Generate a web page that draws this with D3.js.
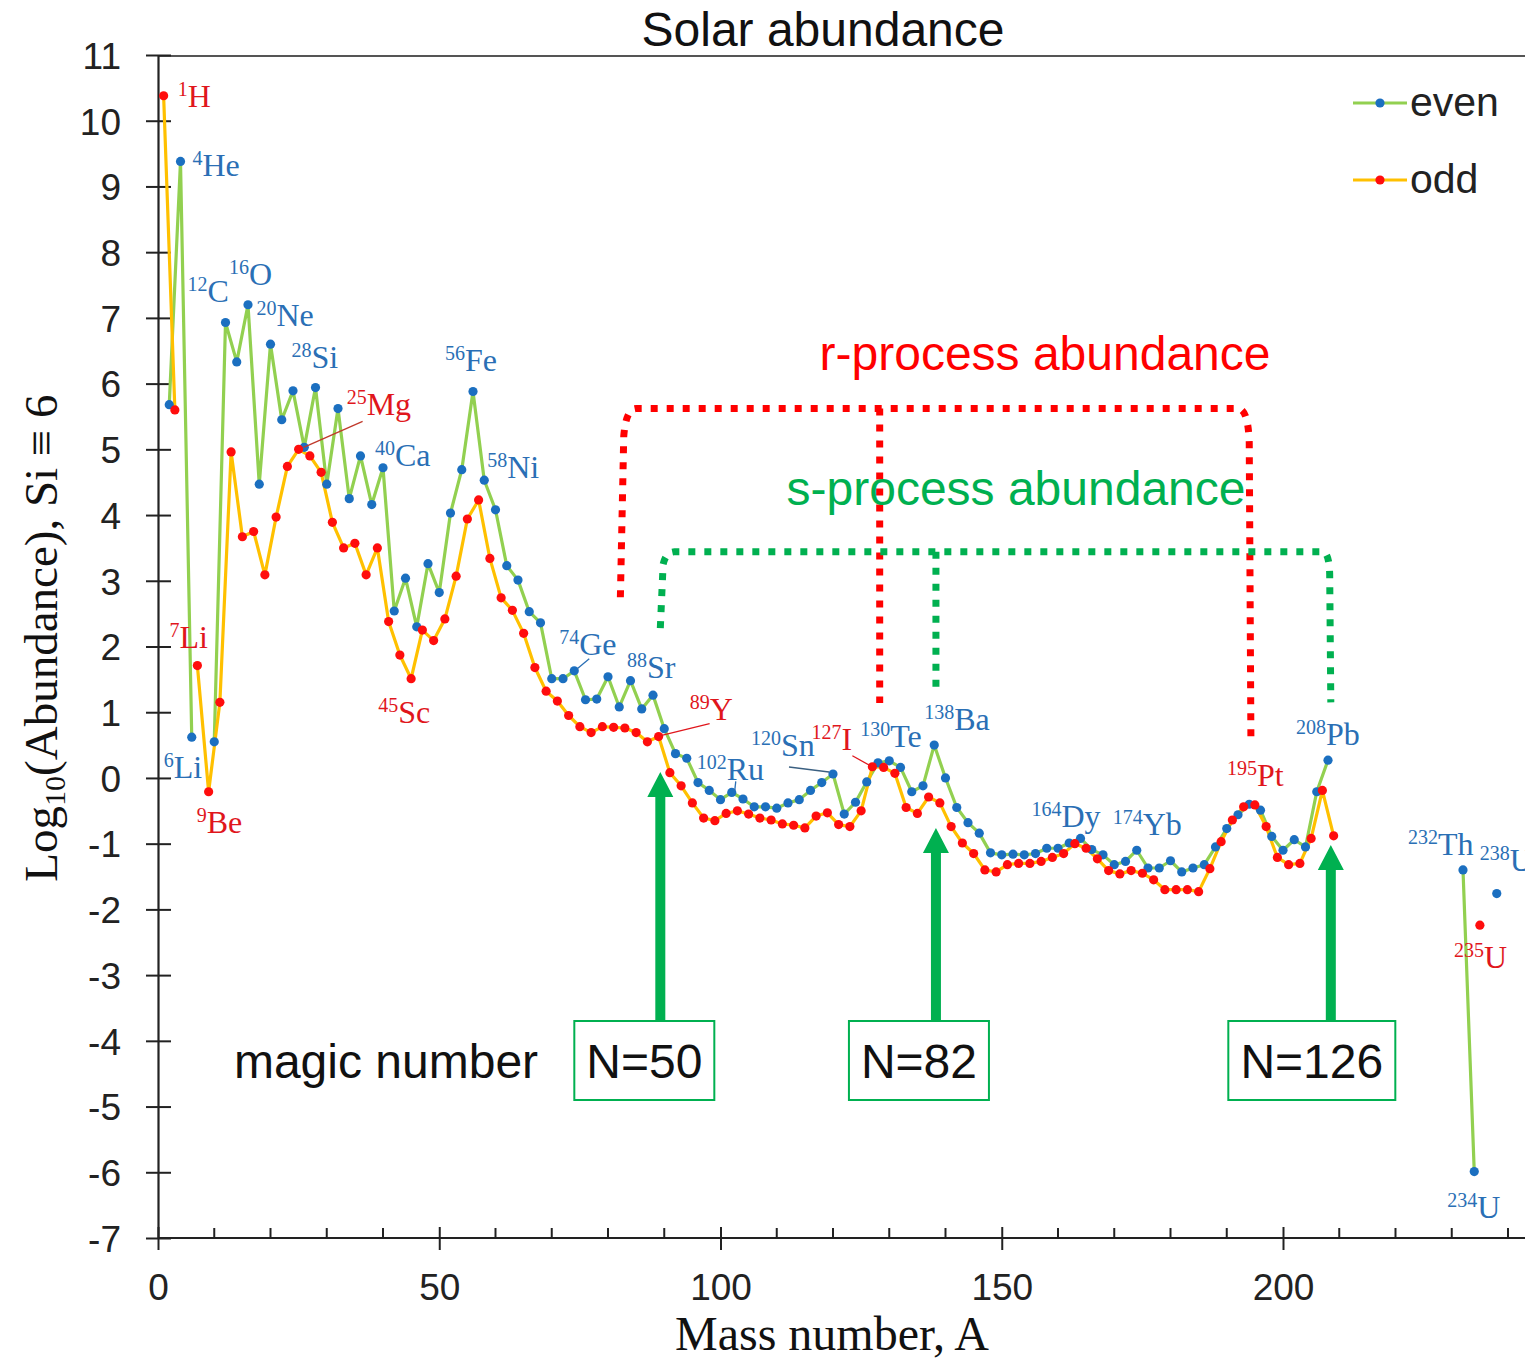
<!DOCTYPE html>
<html>
<head>
<meta charset="utf-8">
<script src="https://cdn.jsdelivr.net/npm/d3@7"></script>
<style>
  body { margin: 0; background: #fff; }
  svg { display: block; }
</style>
</head>
<body>
<svg id="chart" width="1525" height="1359"></svg>
<script>
// Solar-system isotopic abundances, log10 scale normalised to Si = 10^6.
// null entries break the connecting line (unstable mass numbers / gaps).
const evenMass = [2, 4, 6, 8, 10, 12, 14, 16, 18, 20, 22, 24, 26, 28, 30, 32, 34, 36, 38, 40,
  42, 44, 46, 48, 50, 52, 54, 56, 58, 60, 62, 64, 66, 68, 70, 72, 74, 76, 78, 80,
  82, 84, 86, 88, 90, 92, 94, 96, 98, 100, 102, 104, 106, 108, 110, 112, 114, 116, 118, 120,
  122, 124, 126, 128, 130, 132, 134, 136, 138, 140, 142, 144, 146, 148, 150, 152, 154, 156, 158, 160,
  162, 164, 166, 168, 170, 172, 174, 176, 178, 180, 182, 184, 186, 188, 190, 192, 194, 196, 198, 200,
  202, 204, 206, 208, 210, 232, 234, 236, 238];
const evenLog = [5.68, 9.38, 0.62, null, 0.55, 6.93, 6.33, 7.20, 4.47, 6.60, 5.45, 5.89, 5.03, 5.94, 4.47, 5.62, 4.25, 4.90, 4.16, 4.72,
  2.54, 3.04, 2.30, 3.26, 2.82, 4.03, 4.69, 5.88, 4.53, 4.08, 3.23, 3.01, 2.53, 2.36, 1.51, 1.51, 1.63, 1.19, 1.20, 1.54,
  1.08, 1.48, 1.05, 1.26, 0.75, 0.37, 0.30, -0.07, -0.19, -0.33, -0.22, -0.32, -0.44, -0.44, -0.46, -0.38, -0.33, -0.19, -0.07, 0.06,
  -0.55, -0.37, -0.06, 0.23, 0.26, 0.16, -0.21, -0.12, 0.50, 0.00, -0.45, -0.68, -0.84, -1.14, -1.17, -1.16, -1.17, -1.15, -1.07, -1.07,
  -0.99, -0.92, -1.09, -1.17, -1.32, -1.27, -1.10, -1.37, -1.37, -1.26, -1.43, -1.37, -1.32, -1.05, -0.77, -0.56, -0.40, -0.49, -0.89, -1.10,
  -0.94, -1.05, -0.21, 0.27, null, -1.40, -5.99, null, -1.76];

const oddMass = [1, 3, 5, 7, 9, 11, 13, 15, 17, 19, 21, 23, 25, 27, 29, 31, 33, 35, 37, 39,
  41, 43, 45, 47, 49, 51, 53, 55, 57, 59, 61, 63, 65, 67, 69, 71, 73, 75, 77, 79,
  81, 83, 85, 87, 89, 91, 93, 95, 97, 99, 101, 103, 105, 107, 109, 111, 113, 115, 117, 119,
  121, 123, 125, 127, 129, 131, 133, 135, 137, 139, 141, 143, 145, 147, 149, 151, 153, 155, 157, 159,
  161, 163, 165, 167, 169, 171, 173, 175, 177, 179, 181, 183, 185, 187, 189, 191, 193, 195, 197, 199,
  201, 203, 205, 207, 209, 211, 235];
const oddLog = [10.38, 5.60, null, 1.71, -0.21, 1.15, 4.96, 3.67, 3.75, 3.09, 3.97, 4.74, 5.00, 4.90, 4.65, 3.89, 3.50, 3.57, 3.09, 3.50,
  2.38, 1.87, 1.51, 2.25, 2.09, 2.42, 3.07, 3.94, 4.23, 3.34, 2.74, 2.55, 2.20, 1.68, 1.32, 1.17, 0.95, 0.78, 0.69, 0.78,
  0.77, 0.76, 0.69, 0.55, 0.63, 0.08, -0.12, -0.38, -0.61, -0.65, -0.54, -0.50, -0.55, -0.61, -0.64, -0.70, -0.72, -0.76, -0.58, -0.53,
  -0.71, -0.74, -0.50, 0.17, 0.16, 0.07, -0.45, -0.54, -0.29, -0.38, -0.74, -0.99, -1.15, -1.40, -1.43, -1.32, -1.30, -1.30, -1.27, -1.21,
  -1.15, -1.00, -1.07, -1.23, -1.41, -1.46, -1.41, -1.45, -1.55, -1.70, -1.70, -1.70, -1.73, -1.38, -0.97, -0.64, -0.44, -0.41, -0.74, -1.21,
  -1.32, -1.30, -0.92, -0.19, -0.88, null, -2.24];

const xTicks = [0, 50, 100, 150, 200];
const xMinorTicks = [10, 20, 30, 40, 60, 70, 80, 90, 110, 120, 130, 140, 160, 170, 180, 190, 210, 220, 230, 240];
const yTicks = [-7, -6, -5, -4, -3, -2, -1, 0, 1, 2, 3, 4, 5, 6, 7, 8, 9, 10, 11];

// Named isotopes: mass number, superscript, symbol, series
const isotopeMass   = [1, 4, 6, 7, 9, 12, 16, 20, 25, 28, 40, 45, 56, 58, 74, 88, 89, 102, 120, 127, 130, 138, 164, 174, 195, 208, 232, 234, 235, 238];
const isotopeSymbol = ["H", "He", "Li", "Li", "Be", "C", "O", "Ne", "Mg", "Si", "Ca", "Sc", "Fe", "Ni", "Ge", "Sr", "Y", "Ru", "Sn", "I", "Te", "Ba", "Dy", "Yb", "Pt", "Pb", "Th", "U", "U", "U"];

// Magic neutron numbers and the mass numbers they are marked at
const magicLabels = ["N=50", "N=82", "N=126"];
const magicMass = [89.3, 138.3, 208.5];

// ---------------------------------------------------------------- layout
const svg = d3.select("#chart");
const W = 1525, H = 1359;
const SANS = "'Liberation Sans', Arial, Helvetica, sans-serif";
const SERIF = "'Liberation Serif', 'Times New Roman', serif";
const BLUE = "#2a6fb5", RED = "#e0161c", GREEN_LINE = "#92d050", YELLOW_LINE = "#ffc000";
const DOT_BLUE = "#1b6fc0", DOT_RED = "#ff0d0d", ANNOT_GREEN = "#00b050";

const x = d3.scaleLinear().domain([0, 200]).range([158, 1283]);
const y = d3.scaleLinear().domain([-7, 11]).range([1238, 55]);

// label offsets (px) from each isotope's point: [dx, dy]
const labelOffset = {
  1: [14, 11], 4: [12, 15], 6: [-28, 41], 7: [-28, -18], 9: [-12, 41], 12: [-38, -20], 16: [-19, -20],
  20: [-14, -18], 25: [48, -34], 28: [-24, -20], 40: [-8, -2], 45: [-33, 44], 56: [-28, -20], 58: [3, -2],
  74: [-15, -16], 88: [-26, -17], 89: [31, -17], 102: [-35, -12], 120: [-82, -18], 127: [-61, -17],
  130: [-29, -14], 138: [-10, -15], 164: [-49, -11], 174: [-24, -15], 195: [-28, -19], 208: [-32, -15],
  232: [-55, -15], 234: [-27, 46], 235: [-26, 43], 238: [-17, -23]
};
// leader lines: [x1, y1 offsets from point] -> [x2, y2 offsets]
const leaders = {
  25: [[5, -2], [64, -28], "#c0392b"],
  74: [[3, -2], [15, -12], BLUE],
  89: [[2, -1], [51, -13], RED],
  102: [[3, -2], [4, -11], BLUE],
  120: [[-4, -2], [-44, -7], "#3a5f80"],
  127: [[-2, -1], [-20, -11], RED]
};

// ---------------------------------------------------------------- frame
svg.append("line")
  .attr("x1", 158).attr("x2", W).attr("y1", 56).attr("y2", 56)
  .attr("stroke", "#555").attr("stroke-width", 2);

// y axis
const yAxis = svg.append("g")
  .attr("transform", `translate(${x(0)},0)`)
  .call(d3.axisLeft(y).tickValues(yTicks).tickSize(0).tickPadding(37).tickFormat(d => String(d)));
yAxis.select(".domain").attr("stroke", "#222").attr("stroke-width", 2.2);
yAxis.selectAll(".tick text").attr("font-family", SANS).attr("font-size", 37).attr("fill", "#222").attr("dy", "0.36em");
yAxis.selectAll(".tick").append("line")
  .attr("x1", -12).attr("x2", 13).attr("stroke", "#222").attr("stroke-width", 2);

// x axis
const xAxis = svg.append("g")
  .attr("transform", `translate(0,${y(-7)})`)
  .call(d3.axisBottom(x).tickValues(xTicks).tickSize(0).tickPadding(36).tickFormat(d => String(d)));
xAxis.select(".domain").attr("d", `M${x(0)},0H${W}`).attr("stroke", "#222").attr("stroke-width", 2.2);
xAxis.selectAll(".tick text").attr("font-family", SANS).attr("font-size", 37).attr("fill", "#222");
xAxis.selectAll(".tick").append("line")
  .attr("y1", -11).attr("y2", 12).attr("stroke", "#222").attr("stroke-width", 2);
xAxis.selectAll(".minor").data(xMinorTicks).enter().append("line")
  .attr("x1", d => x(d)).attr("x2", d => x(d)).attr("y1", -10).attr("y2", 0)
  .attr("stroke", "#222").attr("stroke-width", 2);

// titles
svg.append("text").attr("x", 823).attr("y", 46).attr("text-anchor", "middle")
  .attr("font-family", SANS).attr("font-size", 48).attr("fill", "#111").text("Solar abundance");

svg.append("text").attr("x", 832).attr("y", 1350).attr("text-anchor", "middle")
  .attr("font-family", SERIF).attr("font-size", 48).attr("fill", "#111").text("Mass number, A");

const yl = svg.append("text").attr("transform", "translate(57,638) rotate(-90)").attr("text-anchor", "middle")
  .attr("font-family", SERIF).attr("font-size", 47).attr("fill", "#111");
yl.append("tspan").text("Log");
yl.append("tspan").attr("font-size", 30).attr("dy", 8).text("10");
yl.append("tspan").attr("dy", -8).text("(Abundance), Si \u2261 6");

// ---------------------------------------------------------------- process brackets
const dotted = (color) => ({ stroke: color, "stroke-width": 7, "stroke-dasharray": "7 9", fill: "none" });
function pathFrom(pts) {
  const p = d3.path();
  p.moveTo(x(pts[0][0]), y(pts[0][1]));
  for (let i = 1; i < pts.length; i++) {
    const pt = pts[i];
    if (pt.length === 4) p.quadraticCurveTo(x(pt[0]), y(pt[1]), x(pt[2]), y(pt[3]));
    else p.lineTo(x(pt[0]), y(pt[1]));
  }
  return p.toString();
}
// r-process
const rPaths = [
  [[82.2, 2.75], [82.8, 5.2], [83.2, 5.62, 85.0, 5.62], [192.0, 5.62], [193.8, 5.62, 194.0, 5.1], [194.3, 0.52]],
  [[128.3, 5.62], [128.3, 1.14]]
];
// s-process
const sPaths = [
  [[89.3, 2.28], [89.8, 3.25], [90.3, 3.44, 91.8, 3.44], [207.0, 3.44], [208.2, 3.44, 208.3, 3.1], [208.5, 1.15]],
  [[138.3, 3.44], [138.3, 1.37]]
];
rPaths.forEach(pts => {
  const el = svg.append("path").attr("d", pathFrom(pts));
  Object.entries(dotted("#ff0000")).forEach(([k, v]) => el.attr(k, v));
});
sPaths.forEach(pts => {
  const el = svg.append("path").attr("d", pathFrom(pts));
  Object.entries(dotted(ANNOT_GREEN)).forEach(([k, v]) => el.attr(k, v));
});
svg.append("text").attr("x", 1045).attr("y", 370).attr("text-anchor", "middle")
  .attr("font-family", SANS).attr("font-size", 48).attr("fill", "#ff0000").text("r-process abundance");
svg.append("text").attr("x", 1016).attr("y", 505).attr("text-anchor", "middle")
  .attr("font-family", SANS).attr("font-size", 48).attr("fill", ANNOT_GREEN).text("s-process abundance");

// ---------------------------------------------------------------- series
function series(mass, vals) {
  return mass.map((m, i) => ({ a: m, v: vals[i] }));
}
const even = series(evenMass, evenLog);
const odd = series(oddMass, oddLog);
const line = d3.line().defined(d => d.v !== null).x(d => x(d.a)).y(d => y(d.v));

svg.append("path").datum(even).attr("d", line)
  .attr("fill", "none").attr("stroke", GREEN_LINE).attr("stroke-width", 3.2).attr("stroke-linejoin", "round");
svg.append("path").datum(odd).attr("d", line)
  .attr("fill", "none").attr("stroke", YELLOW_LINE).attr("stroke-width", 3.2).attr("stroke-linejoin", "round");

svg.append("g").selectAll("circle").data(even.filter(d => d.v !== null)).enter().append("circle")
  .attr("cx", d => x(d.a)).attr("cy", d => y(d.v)).attr("r", 4.6).attr("fill", DOT_BLUE);
svg.append("g").selectAll("circle").data(odd.filter(d => d.v !== null)).enter().append("circle")
  .attr("cx", d => x(d.a)).attr("cy", d => y(d.v)).attr("r", 4.6).attr("fill", DOT_RED);

// ---------------------------------------------------------------- isotope labels
const valueOf = a => {
  const list = a % 2 === 0 ? even : odd;
  return list.find(d => d.a === a).v;
};
isotopeMass.forEach((a, i) => {
  const px = x(a), py = y(valueOf(a));
  const color = a % 2 === 0 ? BLUE : RED;
  if (leaders[a]) {
    const [p1, p2, c] = leaders[a];
    svg.append("line")
      .attr("x1", px + p1[0]).attr("y1", py + p1[1]).attr("x2", px + p2[0]).attr("y2", py + p2[1])
      .attr("stroke", c).attr("stroke-width", 1.3);
  }
  const [dx, dy] = labelOffset[a];
  const t = svg.append("text").attr("x", px + dx).attr("y", py + dy)
    .attr("font-family", SERIF).attr("fill", color);
  t.append("tspan").attr("font-size", 20).attr("dy", -11).text(String(a));
  t.append("tspan").attr("font-size", 32).attr("dy", 11).text(isotopeSymbol[i]);
});

// ---------------------------------------------------------------- magic numbers
svg.append("text").attr("x", 386).attr("y", 1078).attr("text-anchor", "middle")
  .attr("font-family", SANS).attr("font-size", 48).attr("fill", "#111").text("magic number");

const boxWidth = { "N=50": 140, "N=82": 140, "N=126": 167 };
const boxCenterShift = { "N=50": -16, "N=82": -17, "N=126": -19 };
const tipValue = [0.09, -0.76, -1.02];
magicLabels.forEach((lab, i) => {
  const ax = x(magicMass[i]);
  const tipY = y(tipValue[i]);
  const baseY = 1020;
  const sw = 5, hw = 13, hl = 25;
  svg.append("path")
    .attr("d", `M${ax},${tipY} L${ax + hw},${tipY + hl} L${ax + sw},${tipY + hl} L${ax + sw},${baseY} L${ax - sw},${baseY} L${ax - sw},${tipY + hl} L${ax - hw},${tipY + hl} Z`)
    .attr("fill", ANNOT_GREEN);
  const cx = ax + boxCenterShift[lab];
  const bw = boxWidth[lab];
  svg.append("rect").attr("x", cx - bw / 2).attr("y", 1021).attr("width", bw).attr("height", 79)
    .attr("fill", "#fff").attr("stroke", ANNOT_GREEN).attr("stroke-width", 2);
  svg.append("text").attr("x", cx).attr("y", 1078).attr("text-anchor", "middle")
    .attr("font-family", SANS).attr("font-size", 48).attr("fill", "#111").text(lab);
});

// ---------------------------------------------------------------- legend
const legendItems = [
  { name: "even", line: GREEN_LINE, dot: DOT_BLUE, y: 103 },
  { name: "odd", line: YELLOW_LINE, dot: DOT_RED, y: 180 }
];
const lg = svg.append("g");
legendItems.forEach(it => {
  lg.append("line").attr("x1", 1353).attr("x2", 1407).attr("y1", it.y).attr("y2", it.y)
    .attr("stroke", it.line).attr("stroke-width", 3.2);
  lg.append("circle").attr("cx", 1380).attr("cy", it.y).attr("r", 4.6).attr("fill", it.dot);
  lg.append("text").attr("x", 1410).attr("y", it.y + 13)
    .attr("font-family", SANS).attr("font-size", 41).attr("fill", "#222").text(it.name);
});
</script>
</body>
</html>
